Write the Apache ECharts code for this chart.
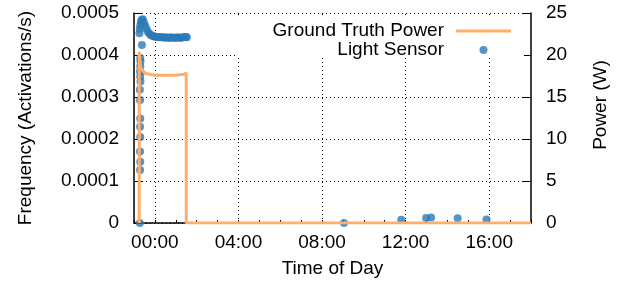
<!DOCTYPE html>
<html>
<head>
<meta charset="utf-8">
<script src="https://cdn.jsdelivr.net/npm/echarts@6/dist/echarts.min.js"></script>
<style>
    html, body { margin: 0; padding: 0; background: #fff; }
    #chart { width: 618px; height: 286px; }
</style>
</head>
<body>
<div id="chart"></div>
<script>
    // hours relative to midnight (negative = previous evening)
    var powerHours = [-0.75, -0.75, -0.68, -0.6, -0.45, 0, 0.5, 1.0, 1.4, 1.5, 1.5, 18];
    var powerWatts = [0, 20.4, 18.5, 18.2, 17.8, 17.6, 17.6, 17.6, 17.7, 17.9, 0, 0];

    var sensorHours = [
        -0.72, -0.71, -0.70, -0.71, -0.70, -0.71, -0.70, -0.71, -0.72, -0.69, -0.70, -0.71, -0.70, -0.69, -0.70, -0.62,
        -0.74, -0.72, -0.70, -0.67, -0.63, -0.58, -0.53, -0.47, -0.40, -0.33, -0.25, -0.18, -0.10,
        -0.02, 0.06, 0.14, 0.22, 0.30, 0.38, 0.46, 0.54, 0.62, 0.70, 0.78, 0.86, 0.94, 1.02, 1.10, 1.18, 1.26, 1.34, 1.42, 1.48, 1.53,
        9.05, 11.79, 12.98, 13.22, 14.49, 15.87
    ];
    var sensorFreq = [
        0, 0.000126, 0.000146, 0.000170, 0.000205, 0.000229, 0.000249, 0.000293, 0.000317, 0.000337, 0.000349, 0.000361, 0.000373, 0.000385, 0.000393, 0.000424,
        0.000452, 0.000462, 0.000471, 0.000479, 0.000484, 0.000485, 0.000478, 0.000470, 0.000462, 0.000455, 0.000450, 0.000447, 0.000445,
        0.000444, 0.000443, 0.000443, 0.000442, 0.000442, 0.000442, 0.000441, 0.000442, 0.000441, 0.000441, 0.000442, 0.000441, 0.000441, 0.000441, 0.000442, 0.000441, 0.000441, 0.000442, 0.000443, 0.000443, 0.000442,
        0, 0.0000075, 0.0000118, 0.0000128, 0.0000115, 0.0000083
    ];

    var xGridHours = [0, 4, 8, 12, 16];
    var freqTicks = ['0', '0.0001', '0.0002', '0.0003', '0.0004', '0.0005'];

    var FONT = 'Liberation Sans';
    var FS = 19;
    var ORANGE = '#fdae6b';
    var BLUE = '#2a7ab8';

    var chart = echarts.init(document.getElementById('chart'));

    function pad(n) { return (n < 10 ? '0' : '') + n; }

    var legendText = { fontFamily: FONT, fontSize: FS, color: '#000', lineHeight: 20, padding: [0, 7, 0, 0] };

    var option = {
        animation: false,
        grid: { left: 134, right: 85, top: 13, bottom: 63 },
        // opaque key box, hides the grid behind the legend
        graphic: [{
            type: 'rect',
            left: 238,
            top: 15,
            z: 5,
            silent: true,
            shape: { width: 286, height: 42 },
            style: { fill: '#fff' }
        }],
        legend: [
            {
                data: [{ name: 'Ground Truth Power', icon: 'rect' }],
                right: 107,
                top: 21,
                align: 'right',
                padding: 0,
                itemWidth: 55,
                itemHeight: 3,
                z: 10,
                textStyle: legendText
            },
            {
                // circle icon is centred in the 55px slot, its bbox ends 23.5px before the slot edge
                data: [{ name: 'Light Sensor', icon: 'circle' }],
                right: 130.5,
                top: 40,
                align: 'right',
                padding: 0,
                itemWidth: 55,
                itemHeight: 8,
                z: 11,
                textStyle: legendText
            }
        ],
        xAxis: {
            type: 'value',
            min: -1,
            max: 18,
            interval: 1,
            name: 'Time of Day',
            nameLocation: 'middle',
            nameGap: 36,
            nameTextStyle: { fontFamily: FONT, fontSize: FS, color: '#000' },
            axisLine: { onZero: false, lineStyle: { color: '#000', width: 1.5 } },
            axisTick: { inside: true, length: 3, lineStyle: { color: '#000' } },
            axisLabel: {
                margin: 10,
                fontFamily: FONT,
                fontSize: FS,
                color: '#000',
                formatter: function (v) {
                    return xGridHours.indexOf(v) >= 0 ? pad(v) + ':00' : '';
                }
            },
            splitLine: { show: false }
        },
        yAxis: [
            {
                type: 'value',
                min: 0,
                max: 0.0005,
                interval: 0.0001,
                position: 'left',
                name: 'Frequency (Activations/s)',
                nameLocation: 'middle',
                nameGap: 99,
                nameTextStyle: { fontFamily: FONT, fontSize: FS, color: '#000' },
                axisLine: { show: true, onZero: false, lineStyle: { color: '#000', width: 1.5 } },
                axisTick: { show: true, inside: true, length: 8, lineStyle: { color: '#000' } },
                axisLabel: {
                    margin: 15,
                    fontFamily: FONT,
                    fontSize: FS,
                    color: '#000',
                    formatter: function (v) {
                        return freqTicks[Math.round(v / 0.0001)];
                    }
                },
                splitLine: { show: true, lineStyle: { color: '#000', type: [1, 3], width: 1 } }
            },
            {
                type: 'value',
                min: 0,
                max: 25,
                interval: 5,
                position: 'right',
                name: 'Power (W)',
                nameLocation: 'middle',
                nameGap: 60,
                nameTextStyle: { fontFamily: FONT, fontSize: FS, color: '#000', padding: [0, 0, 0, 26] },
                axisLine: { show: true, onZero: false, lineStyle: { color: '#000', width: 1.5 } },
                axisTick: { show: true, inside: true, length: 8, lineStyle: { color: '#000' } },
                axisLabel: { margin: 15, fontFamily: FONT, fontSize: FS, color: '#000' },
                splitLine: { show: false }
            }
        ],
        series: [
            {
                name: 'Ground Truth Power',
                type: 'line',
                yAxisIndex: 1,
                showSymbol: false,
                symbol: 'none',
                color: ORANGE,
                lineStyle: { color: ORANGE, width: 3 },
                data: powerHours.map(function (h, i) { return [h, powerWatts[i]]; }),
                markLine: {
                    silent: true,
                    z: 1,
                    symbol: ['none', 'none'],
                    label: { show: false },
                    lineStyle: { color: '#000', type: [1, 3], width: 1 },
                    data: xGridHours.map(function (h) { return { xAxis: h }; })
                }
            },
            {
                name: 'Light Sensor',
                type: 'scatter',
                yAxisIndex: 0,
                symbol: 'circle',
                symbolSize: 8,
                color: BLUE,
                itemStyle: { color: BLUE },
                data: sensorHours.map(function (h, i) { return [h, sensorFreq[i]]; })
            }
        ]
    };

    chart.setOption(option);
</script>
</body>
</html>
